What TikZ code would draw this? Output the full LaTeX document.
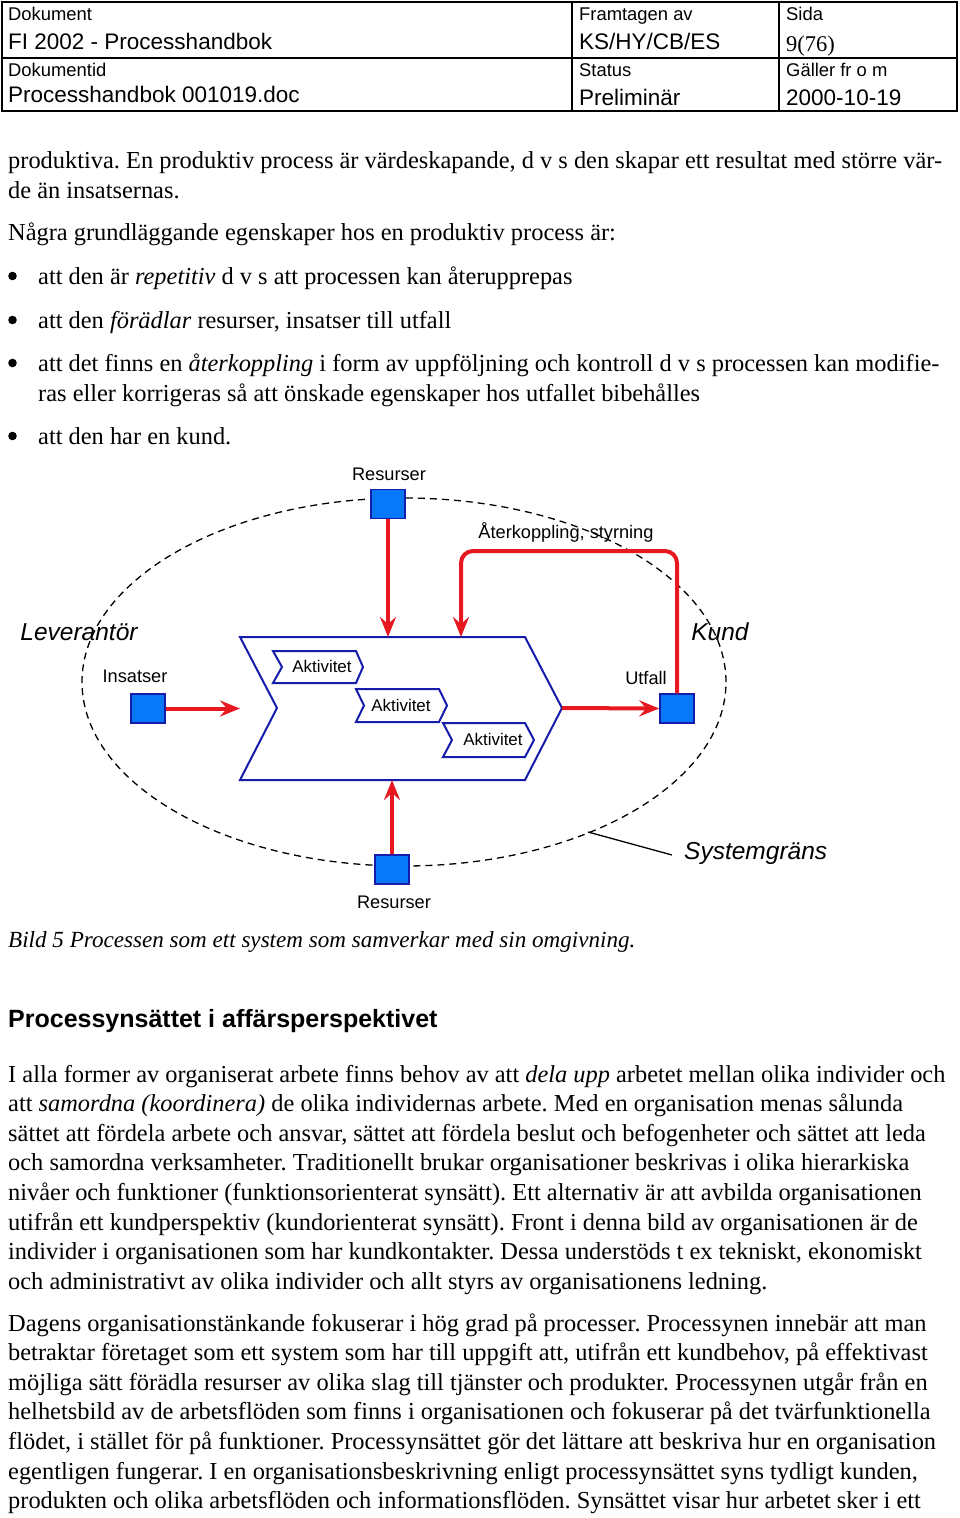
\documentclass[tikz,border=0pt]{standalone}
\usepackage{fontspec}
\setmainfont{Liberation Serif}
\setsansfont{Liberation Sans}
\usetikzlibrary{arrows.meta}
\frenchspacing

\definecolor{flowred}{RGB}{232,24,32}
\definecolor{resblue}{RGB}{8,120,250}
\definecolor{edgeblue}{RGB}{22,28,170}

\newcommand\bodyfont{\fontsize{24.4}{29.6}\selectfont}
\newcommand\hdrsmallfont{\sffamily\fontsize{18.4}{20}\selectfont}
\newcommand\hdrbigfont{\sffamily\fontsize{22.5}{24}\selectfont}
\newcommand\lblfont{\sffamily\fontsize{18.2}{20}\selectfont}
\newcommand\bigitfont{\sffamily\itshape\fontsize{24.5}{26}\selectfont}

\tikzset{
  bodyline/.style={anchor=base west, inner sep=0pt, font=\bodyfont},
  hdrsmall/.style={anchor=base west, inner sep=0pt, font=\hdrsmallfont},
  hdrbig/.style={anchor=base west, inner sep=0pt, font=\hdrbigfont},
  lbl/.style={inner sep=0pt, font=\lblfont},
  bigit/.style={inner sep=0pt, font=\bigitfont},
  resbox/.style={draw=edgeblue, fill=resblue, line width=1.5pt,
    minimum width=34pt, minimum height=29pt, inner sep=0pt},
  flow/.style={draw=flowred, line width=4pt,
    -{Stealth[length=20pt,width=16pt,inset=7pt]}},
  chevron/.style={draw=edgeblue, line width=2pt, line join=miter},
}

\begin{document}
\begin{tikzpicture}[x=1pt,y=-1pt]
\fill[white] (0,0) rectangle (960,1518);
\useasboundingbox (0,0) rectangle (960,1518);

% Header table
\draw[line width=1.2pt] (2,2) rectangle (957,111);
\draw[line width=1.2pt] (2,58) -- (957,58);
\draw[line width=1.2pt] (572,2) -- (572,111);
\draw[line width=1.2pt] (779,2) -- (779,111);
\node[hdrsmall] (hdok) at (8,20) {Dokument};
\node[hdrbig] (hdoknamn) at (8,49) {FI 2002 - Processhandbok};
\node[hdrsmall] (hdokid) at (8,76) {Dokumentid};
\node[hdrbig] (hfil) at (8,102) {Processhandbok 001019.doc};
\node[hdrsmall] (hframt) at (579,20) {Framtagen av};
\node[hdrbig] (hnamn) at (579,49) {KS/HY/CB/ES};
\node[hdrsmall] (hstatus) at (579,76) {Status};
\node[hdrbig] (hprel) at (579,105) {Preliminär};
\node[hdrsmall] (hsida) at (786,20) {Sida};
\node[anchor=base west, inner sep=0pt, font=\fontsize{22.5}{24}\selectfont] (hnr) at (786,51) {9(76)};
\node[hdrsmall] (hgaller) at (786,76) {Gäller fr o m};
\node[hdrbig] (hdatum) at (786,105) {2000-10-19};

% Text above the picture
\node[bodyline] (t1) at (8,168) {produktiva. En produktiv process är värdeskapande, d v s den skapar ett resultat med större vär-};
\node[bodyline] (t2) at (8,198) {de än insatsernas.};
\node[bodyline] (t3) at (8,240) {Några grundläggande egenskaper hos en produktiv process är:};
\foreach \yy in {276,320,363,436}
  \fill (12.5,\yy) circle (4.3pt);
\node[bodyline] (b1) at (38,284) {att den är \emph{repetitiv} d v s att processen kan återupprepas};
\node[bodyline] (b2) at (38,328) {att den \emph{förädlar} resurser, insatser till utfall};
\node[bodyline] (b3) at (38,371) {att det finns en \emph{återkoppling} i form av uppföljning och kontroll d v s processen kan modifie-};
\node[bodyline] (b3b) at (38,401) {ras eller korrigeras så att önskade egenskaper hos utfallet bibehålles};
\node[bodyline] (b4) at (38,444) {att den har en kund.};

% System boundary
\draw[dashed, line width=1.3pt, dash pattern=on 7pt off 5pt] (404,682) ellipse [x radius=322pt, y radius=184pt];

% Process chevron
\coordinate (p-nw) at (240,637);
\coordinate (p-ne) at (525,637);
\coordinate (p-e) at (562,708);
\coordinate (p-se) at (525,780);
\coordinate (p-sw) at (240,780);
\coordinate (p-w) at (277,708);
\draw[chevron] (p-nw) -- (p-ne) -- (p-e) -- (p-se) -- (p-sw) -- (p-w) -- cycle;

% Activities
\draw[chevron] (273,651) -- (356,651) -- (363,667) -- (356,683) -- (273,683) -- (282,667) -- cycle;
\draw[chevron] (356,689) -- (439,689) -- (447,705.5) -- (439,722) -- (356,722) -- (364,705.5) -- cycle;
\draw[chevron] (443,723) -- (525,723) -- (534,740) -- (525,757) -- (443,757) -- (452,740) -- cycle;
\node[lbl, font=\sffamily\fontsize{16.9}{18}\selectfont] (akt1) at (322,666) {Aktivitet};
\node[lbl, font=\sffamily\fontsize{16.9}{18}\selectfont] (akt2) at (401,705) {Aktivitet};
\node[lbl, font=\sffamily\fontsize{16.9}{18}\selectfont] (akt3) at (493,739) {Aktivitet};

% Resources, inputs and output
\node[resbox] (resTop) at (388,504) {};
\node[resbox] (resBot) at (392,869.5) {};
\node[resbox] (ins) at (148,708.5) {};
\node[resbox] (ut) at (677,708.5) {};
\node[lbl] (resTopL) at (389,474) {Resurser};
\node[lbl] (resBotL) at (394,902) {Resurser};
\node[lbl] (insL) at (135,676) {Insatser};
\node[lbl] (utL) at (646,678) {Utfall};
\node[lbl] (fbL) at (566,532) {Återkoppling, styrning};

% Flows
\coordinate (fb-top) at (461,551);
\coordinate (fb-in) at (461,637);
\draw[flow] (resTop.south) -- (resTop.south |- p-nw);
\draw[flow] (resBot.north) -- (resBot.north |- p-sw);
\draw[flow] (ins.east) -- (ins.east -| p-nw);
\draw[flow] (p-e) -- (ut.west);
\draw[flow, rounded corners=12pt] (ut.north) -- (ut.north |- fb-top) -- (fb-top) -- (fb-in);

% Surroundings
\node[bigit] (lev) at (79,632) {Leverantör};
\node[bigit] (kund) at (720,632) {Kund};
\node[bigit, anchor=west] (sysg) at (684,853) {Systemgräns};
\coordinate (sg-pt) at (588,832);
\draw[line width=1.3pt] (sg-pt) -- ([xshift=-12pt,yshift=-2pt]sysg.west);

% Caption and heading
\node[anchor=base west, inner sep=0pt, font=\itshape\fontsize{23.1}{26}\selectfont] (cap) at (8,947) {Bild 5 Processen som ett system som samverkar med sin omgivning.};
\node[anchor=base west, inner sep=0pt, font=\sffamily\bfseries\fontsize{25}{28}\selectfont] (rub) at (8,1027) {Processynsättet i affärsperspektivet};

% Text below the picture
\node[bodyline] (s1) at (8,1082) {I alla former av organiserat arbete finns behov av att \emph{dela upp} arbetet mellan olika individer och};
\node[bodyline] (s2) at (8,1111.6) {att \emph{samordna (koordinera)} de olika individernas arbete. Med en organisation menas sålunda};
\node[bodyline] (s3) at (8,1141.2) {sättet att fördela arbete och ansvar, sättet att fördela beslut och befogenheter och sättet att leda};
\node[bodyline] (s4) at (8,1170.8) {och samordna verksamheter. Traditionellt brukar organisationer beskrivas i olika hierarkiska};
\node[bodyline] (s5) at (8,1200.4) {nivåer och funktioner (funktionsorienterat synsätt). Ett alternativ är att avbilda organisationen};
\node[bodyline] (s6) at (8,1230) {utifrån ett kundperspektiv (kundorienterat synsätt). Front i denna bild av organisationen är de};
\node[bodyline] (s7) at (8,1259.6) {individer i organisationen som har kundkontakter. Dessa understöds t ex tekniskt, ekonomiskt};
\node[bodyline] (s8) at (8,1289.2) {och administrativt av olika individer och allt styrs av organisationens ledning.};
\node[bodyline] (u1) at (8,1331) {Dagens organisationstänkande fokuserar i hög grad på processer. Processynen innebär att man};
\node[bodyline] (u2) at (8,1360.6) {betraktar företaget som ett system som har till uppgift att, utifrån ett kundbehov, på effektivast};
\node[bodyline] (u3) at (8,1390.2) {möjliga sätt förädla resurser av olika slag till tjänster och produkter. Processynen utgår från en};
\node[bodyline] (u4) at (8,1419.8) {helhetsbild av de arbetsflöden som finns i organisationen och fokuserar på det tvärfunktionella};
\node[bodyline] (u5) at (8,1449.4) {flödet, i stället för på funktioner. Processynsättet gör det lättare att beskriva hur en organisation};
\node[bodyline] (u6) at (8,1479) {egentligen fungerar. I en organisationsbeskrivning enligt processynsättet syns tydligt kunden,};
\node[bodyline] (u7) at (8,1508.6) {produkten och olika arbetsflöden och informationsflöden. Synsättet visar hur arbetet sker i ett};
\end{tikzpicture}
\end{document}
